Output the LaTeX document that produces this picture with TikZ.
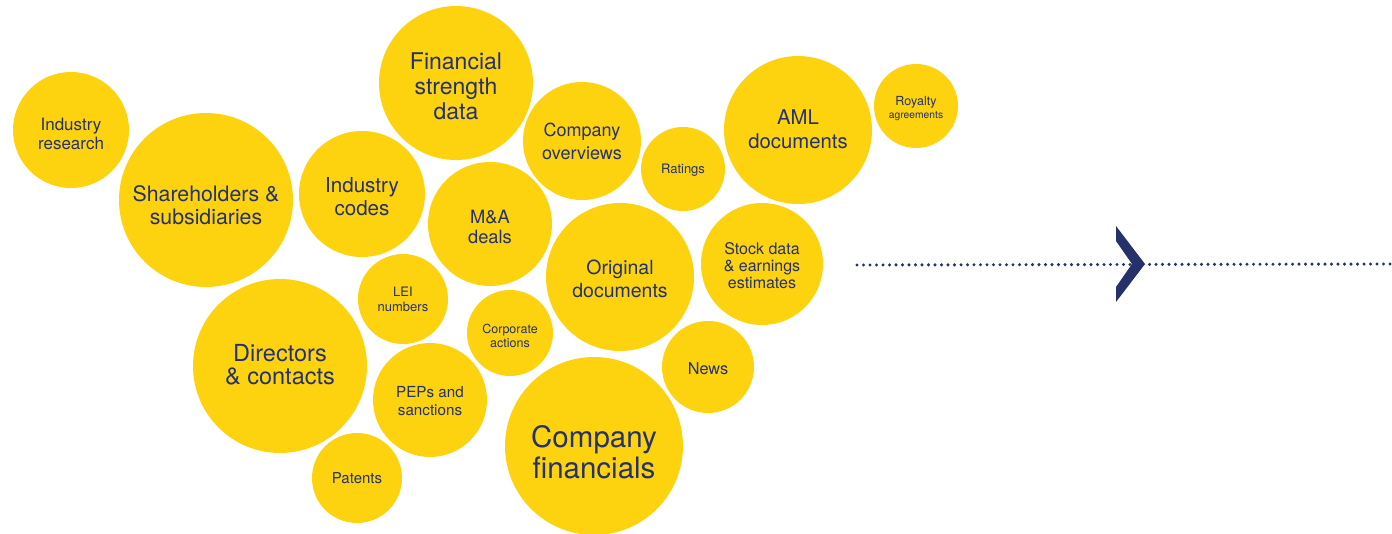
\documentclass[tikz,border=0pt]{standalone}
\usepackage{fontspec}
\setmainfont{TeX Gyre Heros}
\usepackage{xcolor}
\definecolor{bubbleyellow}{HTML}{FDD30F}
\definecolor{inknavy}{HTML}{25316B}
\newcommand{\fsz}[2]{\fontsize{#1}{#2}\selectfont}
\begin{document}
\begin{tikzpicture}[x=1pt,y=-1pt,
    bubble/.style={circle,fill=bubbleyellow,inner sep=0pt,minimum size=#1},
    txt/.style={text=inknavy,align=center,inner sep=0pt}]
    \useasboundingbox (0,0) rectangle (1392,533);
    % bubbles, text placed as centre labels
    \node[bubble=116pt,label={[txt,yshift=-4pt,font=\fsz{17}{19}]center:{Industry\\research}}] (indresearch) at (71,130) {};
    \node[bubble=174pt,label={[txt,yshift=-5pt,font=\fsz{21.3}{23.5}]center:{Shareholders \&\\subsidiaries}}] (shareholders) at (206,200) {};
    \node[bubble=154pt,label={[txt,yshift=-3pt,font=\fsz{23}{25}]center:{Financial\\strength\\data}}] (finstrength) at (456,83) {};
    \node[bubble=118pt,label={[txt,font=\fsz{18}{23}]center:{Company\\overviews}}] (overviews) at (582,141) {};
    \node[bubble=84pt,label={[txt,yshift=-1pt,font=\fsz{13}{15}]center:{Ratings}}] (ratings) at (683,169) {};
    \node[bubble=148pt,label={[txt,yshift=1pt,font=\fsz{20.3}{24}]center:{AML\\documents}}] (aml) at (798,130) {};
    \node[bubble=84pt,label={[txt,yshift=-3pt,font=\fsz{12.5}{13}]center:{Royalty\\{\fsz{10.3}{12}agreements}}}] (royalty) at (916,106) {};
    \node[bubble=126pt,label={[txt,yshift=-3pt,font=\fsz{20.6}{23}]center:{Industry\\codes}}] (indcodes) at (362,194) {};
    \node[bubble=124pt,label={[txt,yshift=-3pt,font=\fsz{18.3}{20}]center:{M\&A\\deals}}] (mna) at (490,224) {};
    \node[bubble=148pt,label={[txt,yshift=-2pt,font=\fsz{19.5}{23}]center:{Original\\documents}}] (originals) at (620,277) {};
    \node[bubble=122pt,label={[txt,yshift=-2pt,font=\fsz{16}{17}]center:{Stock data\\\& earnings\\estimates}}] (stockdata) at (762,264) {};
    \node[bubble=92pt,label={[txt,yshift=-2pt,font=\fsz{16.3}{18}]center:{News}}] (news) at (708,367) {};
    \node[bubble=90pt,label={[txt,font=\fsz{13}{15}]center:{LEI\\numbers}}] (lei) at (403,299) {};
    \node[bubble=86pt,label={[txt,yshift=-3pt,font=\fsz{12.5}{14}]center:{Corporate\\actions}}] (corpactions) at (510,333) {};
    \node[bubble=174pt,label={[txt,yshift=1pt,font=\fsz{23.5}{23}]center:{Directors\\\& contacts}}] (directors) at (280,366) {};
    \node[bubble=114pt,label={[txt,yshift=-1pt,font=\fsz{15.2}{18}]center:{PEPs and\\sanctions}}] (peps) at (430,400) {};
    \node[bubble=90pt,label={[txt,font=\fsz{15}{18}]center:{Patents}}] (patents) at (357,478) {};
    \node[bubble=178pt,label={[txt,yshift=-6pt,font=\fsz{29.5}{31}]center:{Company\\financials}}] (financials) at (594,446) {};
    % dotted arrow
    \coordinate (linestart) at (857,265);
    \coordinate (lineend) at (1392,264);
    \draw[inknavy,line width=3.4pt,line cap=round,dash pattern=on 0pt off 6.5pt] (linestart) -- (lineend);
    \fill[inknavy] (1116,226) -- (1145,264) -- (1116,302) -- (1116,287) -- (1132,264) -- (1116,241) -- cycle;
\end{tikzpicture}
\end{document}
